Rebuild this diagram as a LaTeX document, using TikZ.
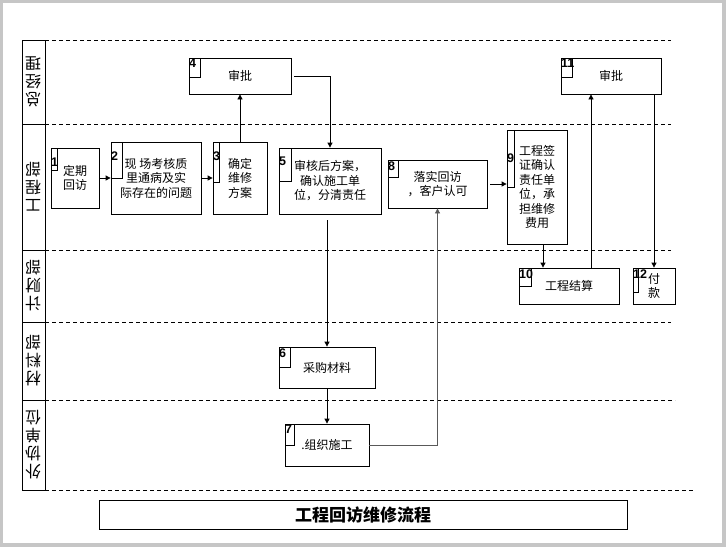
\documentclass[tikz,border=0pt]{standalone}
\usepackage{fontspec}
\setmainfont{Liberation Sans}
\newfontfamily\cjk{Noto Sans CJK SC}
\usetikzlibrary{arrows.meta, positioning}

\tikzset{
  box/.style={draw, line width=0.8pt, align=center, inner sep=0pt, font=\cjk\fontsize{12}{14.5}\selectfont},
  tab/.style={draw, line width=0.6pt, anchor=north west, inner sep=0pt},
  num/.style={anchor=north west, inner xsep=0.3pt, inner ysep=1.5pt, font=\bfseries\fontsize{12.5}{12.5}\selectfont},
  lane/.style={rotate=180, align=center, inner sep=0pt, font=\cjk\fontsize{16}{18}\selectfont},
  sep/.style={dash pattern=on 4pt off 3pt, line width=0.6pt},
  flow/.style={-{Triangle[length=5pt,width=5pt]}, line width=0.8pt},
}

\begin{document}
\begin{tikzpicture}[x=1pt, y=-1pt]
% page
\fill[gray!45] (0,0) rectangle (726,547);
\fill[white] (3,3) rectangle (722,543);

% swim lanes
\draw[line width=0.8pt] (22,40) rectangle (45,490);
\foreach \y in {124,250,322,400}
  \draw[line width=0.8pt] (22,\y) -- (45,\y);
\foreach \y in {40,124,250,322}
  \draw[sep] (45,\y) -- (671,\y);
\draw[sep] (45,400) -- (675,400);
\draw[sep] (45,490) -- (693,490);

\node[lane] (l1) at (33,82) {总\\经\\理};
\node[lane] (l2) at (33,187) {工\\程\\部};
\node[lane] (l3) at (33,286) {计\\财\\部};
\node[lane] (l4) at (33,361) {材\\料\\部};
\node[lane] (l5) at (33,445) {外\\协\\单\\位};

% steps
\node[box, minimum width=48, minimum height=60] (b1) at (75,178) {定期\\回访};
\node[box, minimum width=90, minimum height=72] (b2) at (156,178) {现 场考核质\\里通病及实\\际存在的问题};
\node[box, minimum width=54, minimum height=72] (b3) at (240,178) {确定\\维修\\方案};
\node[box, minimum width=102, minimum height=36] (b4) at (240,76) {审批};
\node[box, minimum width=102, minimum height=66] (b5) at (330,181) {审核后方案，\\确认施工单\\位，分清责任};
\node[box, minimum width=96, minimum height=41] (b6) at (327,367.5) {采购材料};
\node[box, minimum width=84, minimum height=42] (b7) at (327,445) {.组织施工};
\node[box, minimum width=99, minimum height=48] (b8) at (437.5,184) {落实回访\\，客户认可};
\node[box, minimum width=60, minimum height=114] (b9) at (537,187) {工程签\\证确认\\责任单\\位，承\\担维修\\费用};
\node[box, minimum width=100, minimum height=36] (b10) at (569,286) {工程结算};
\node[box, minimum width=100, minimum height=36] (b11) at (611,76) {审批};
\node[box, minimum width=42, minimum height=36] (b12) at (654,286) {付\\款};

% number tabs
\node[tab, minimum width=6, minimum height=22] (t1) at (b1.north west) {};
\node[tab, minimum width=11, minimum height=36] (t2) at (b2.north west) {};
\node[tab, minimum width=6, minimum height=40] (t3) at (b3.north west) {};
\node[tab, minimum width=11, minimum height=19] (t4) at (b4.north west) {};
\node[tab, minimum width=12, minimum height=33] (t5) at (b5.north west) {};
\node[tab, minimum width=11, minimum height=20] (t6) at (b6.north west) {};
\node[tab, minimum width=9, minimum height=21] (t7) at (b7.north west) {};
\node[tab, minimum width=10, minimum height=17] (t8) at (b8.north west) {};
\node[tab, minimum width=7, minimum height=57] (t9) at (b9.north west) {};
\node[tab, minimum width=12, minimum height=18] (t10) at (b10.north west) {};
\node[tab, minimum width=11, minimum height=19] (t11) at (b11.north west) {};
\node[tab, minimum width=5, minimum height=24] (t12) at (b12.north west) {};

\node[num] (n1) at ([yshift=-9]t1.north west) {1};
\node[num] (n2) at ([yshift=-8]t2.north west) {2};
\node[num] (n3) at ([yshift=-8]t3.north west) {3};
\node[num] (n4) at (t4.north west) {4};
\node[num] (n5) at ([yshift=-8]t5.north west) {5};
\node[num] (n6) at (t6.north west) {6};
\node[num] (n7) at (t7.north west) {7};
\node[num] (n8) at (t8.north west) {8};
\node[num] (n9) at ([yshift=-22]t9.north west) {9};
\node[num] (n10) at (t10.north west) {10};
\node[num] (n11) at (t11.north west) {11};
\node[num] (n12) at (t12.north west) {12};

% flow
\draw[flow] (b1) -- (b2);
\draw[flow] (b2) -- (b3);
\draw[flow] (b3.north) -- (b3.north |- b4.south);
\draw[flow, shorten <=3pt] (b4.east) -| (b5.north);
\draw[flow, shorten <=6pt] (b6.north |- b5.south) -- (b6.north);
\draw[flow] (b6) -- (b7);
\draw[flow, black!65] (b7.east) -| (b8.south);
\draw[flow, shorten <=3pt] (b8.east) -- (b8.east -| b9.west);
\draw[flow] ([xshift=6]b9.south) -- ([xshift=6]b9.south |- b10.north);
\draw[flow] ([xshift=22]b10.north) -- ([xshift=22]b10.north |- b11.south);
\draw[flow] (b12.north |- b11.south) -- (b12.north);

% title
\node[draw, line width=0.8pt, minimum width=528, minimum height=29, font=\cjk\bfseries\fontsize{17}{17}\selectfont] (title) at (363,514.5) {工程回访维修流程};
\end{tikzpicture}
\end{document}
